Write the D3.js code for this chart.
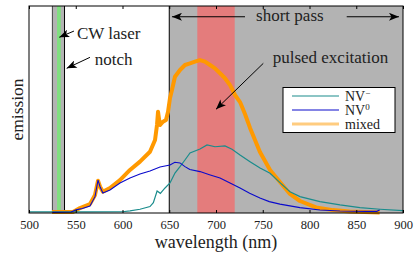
<!DOCTYPE html>
<html>
<head>
 <meta charset="UTF-8">
 <title>NV emission</title>
 <script src="https://d3js.org/d3.v7.min.js"></script>
 <style>
  body { margin: 0; background: #fff; }
  text { font-family: "Liberation Serif", "DejaVu Serif", serif; fill: #222; }
 </style>
</head>
<body>
<script type="text/javascript">
var width = 415, height = 258;
var plotLeft = 29, plotRight = 403, plotTop = 6, plotBottom = 213;

var tickNm = [500, 550, 600, 650, 700, 750, 800, 850, 900];

// filter bands (nm)
var notchBand = [525, 538];
var laserBand = [530, 534];
var shortPassEdge = 650;
var pulseBand = [680, 720];

// NV- spectrum
var nvMinusNm = [500, 560, 600, 608, 618.7, 629.4, 633, 637, 640.5, 645.5, 650.8, 656.1, 661.5, 666.8, 672.2, 682.9, 690.4, 698.9, 709.6, 717.1, 725.7, 736.4, 747.1, 757.8, 768.4, 779.1, 789.8, 811.2, 832.6, 854, 875.4, 900];
var nvMinusEm = [0.005, 0.005, 0.006, 0.01, 0.018, 0.031, 0.05, 0.106, 0.095, 0.121, 0.145, 0.193, 0.224, 0.256, 0.29, 0.309, 0.329, 0.32, 0.324, 0.308, 0.28, 0.248, 0.217, 0.192, 0.147, 0.103, 0.079, 0.055, 0.039, 0.026, 0.018, 0.011];

// NV0 spectrum
var nvZeroNm = [525, 545, 550.3, 557, 565.2, 570.6, 573.8, 576, 579, 586.6, 597.3, 608, 618.7, 629.4, 640.1, 650.8, 656, 661.5, 666.8, 672, 682.9, 693, 704.3, 715, 725.7, 736, 747, 757, 768.4, 789.8, 811.2, 832.6, 860, 872, 875];
var nvZeroEm = [0.003, 0.005, 0.015, 0.022, 0.034, 0.079, 0.159, 0.127, 0.097, 0.111, 0.145, 0.169, 0.188, 0.203, 0.222, 0.232, 0.245, 0.242, 0.224, 0.21, 0.2, 0.185, 0.169, 0.145, 0.121, 0.095, 0.072, 0.055, 0.043, 0.026, 0.0145, 0.01, 0.008, 0.008, 0.014];

// mixed spectrum
var mixedNm = [524.6, 547, 554.5, 565.2, 570.6, 573.8, 576, 579, 586.6, 597.3, 608, 618.7, 629.4, 634.8, 636.9, 638, 640, 643.3, 646.5, 648.7, 650.8, 652.9, 656.1, 661.5, 666.8, 672.2, 677.5, 682.9, 688.2, 693.6, 698.9, 704.3, 709.6, 715, 720.3, 725.7, 731, 736.4, 741.7, 747, 757.8, 768.4, 779.1, 789.8, 807, 825, 843, 875];
var mixedEm = [0.005, 0.005, 0.024, 0.043, 0.087, 0.156, 0.127, 0.103, 0.121, 0.159, 0.208, 0.248, 0.296, 0.353, 0.425, 0.489, 0.425, 0.441, 0.449, 0.489, 0.556, 0.594, 0.658, 0.691, 0.715, 0.723, 0.731, 0.739, 0.731, 0.715, 0.699, 0.675, 0.651, 0.618, 0.57, 0.536, 0.478, 0.411, 0.353, 0.295, 0.208, 0.15, 0.092, 0.058, 0.027, 0.014, 0.007, 0.002];

var seriesNames = ["NV", "NV", "mixed"];
var seriesSup = ["\u2212", "0", ""];
var seriesColors = ["#1a8c8c", "#0a0acc", "#ff9900"];

var svg = d3.select('body').append('svg')
    .attr('width', width)
    .attr('height', height);

var x = d3.scaleLinear().domain([500, 900]).range([plotLeft, plotRight]);
var y = d3.scaleLinear().domain([0, 1]).range([plotBottom, plotTop]);

// shaded bands
function band(a, b, color) {
    svg.append('rect')
        .attr('x', x(a)).attr('y', plotTop)
        .attr('width', x(b) - x(a)).attr('height', plotBottom - plotTop)
        .style('fill', color);
}
band(shortPassEdge, 900, '#b3b3b3');
band(notchBand[0], notchBand[1], '#b3b3b3');
band(laserBand[0], laserBand[1], '#80e080');
band(pulseBand[0], pulseBand[1], '#e47c7c');

[notchBand[0], notchBand[1], shortPassEdge].forEach(function (v, i) {
    svg.append('line')
        .attr('x1', x(v)).attr('x2', x(v))
        .attr('y1', plotTop).attr('y2', plotBottom)
        .style('stroke', i == 0 ? '#444' : '#000')
        .style('stroke-width', 1);
});

var line = d3.line()
    .x(function (d) { return x(d[0]); })
    .y(function (d) { return y(d[1]); });

svg.append('path')
    .datum(d3.zip(mixedNm, mixedEm))
    .attr('d', line)
    .style('fill', 'none')
    .style('stroke', seriesColors[2])
    .style('stroke-width', 4)
    .style('stroke-linejoin', 'round');
svg.append('path')
    .datum(d3.zip(nvMinusNm, nvMinusEm))
    .attr('d', line)
    .style('fill', 'none')
    .style('stroke', seriesColors[0])
    .style('stroke-width', 1.2);
svg.append('path')
    .datum(d3.zip(nvZeroNm, nvZeroEm))
    .attr('d', line)
    .style('fill', 'none')
    .style('stroke', seriesColors[1])
    .style('stroke-width', 1.1);

// axes
var xAxis = d3.axisBottom(x).tickValues(tickNm).tickSize(-3).tickPadding(7);
var gx = svg.append('g').attr('transform', 'translate(0,' + plotBottom + ')').call(xAxis);
gx.select('.domain').remove();
gx.selectAll('text').style('font-size', '12.5px').style('font-family', '"Liberation Serif", serif');
var gt = svg.append('g').attr('transform', 'translate(0,' + plotTop + ')')
    .call(d3.axisTop(x).tickValues(tickNm).tickSize(-3).tickFormat(''));
gt.select('.domain').remove();

svg.append('rect')
    .attr('x', plotLeft).attr('y', plotTop)
    .attr('width', plotRight - plotLeft).attr('height', plotBottom - plotTop)
    .style('fill', 'none').style('stroke', '#000').style('stroke-width', 1);

svg.append('text')
    .attr('x', 216).attr('y', 248)
    .attr('text-anchor', 'middle')
    .style('font-size', '18px')
    .text('wavelength (nm)');
svg.append('text')
    .attr('transform', 'translate(23,' + ((plotTop + plotBottom) / 2) + ') rotate(-90)')
    .attr('text-anchor', 'middle')
    .style('font-size', '17.5px')
    .text('emission');

// annotations
svg.append('defs').append('marker')
    .attr('id', 'head')
    .attr('viewBox', '0 0 10 8')
    .attr('refX', 10).attr('refY', 4)
    .attr('markerWidth', 11).attr('markerHeight', 8)
    .attr('markerUnits', 'userSpaceOnUse')
    .attr('orient', 'auto')
    .append('path')
    .attr('d', 'M0,0 L10,4 L0,8 L2.5,4 Z')
    .style('fill', '#000');

function arrow(x1, y1, x2, y2) {
    svg.append('line')
        .attr('x1', x(x1)).attr('y1', y(y1))
        .attr('x2', x(x2)).attr('y2', y(y2))
        .style('stroke', '#000').style('stroke-width', 1)
        .attr('marker-end', 'url(#head)');
}
function label(nm, em, txt, size, anchor) {
    svg.append('text')
        .attr('x', x(nm)).attr('y', y(em))
        .attr('text-anchor', anchor || 'start')
        .style('font-size', size + 'px')
        .text(txt);
}

arrow(731, 0.948, 652.9, 0.948);
arrow(839.8, 0.948, 895.7, 0.948);
label(779, 0.926, 'short pass', 17, 'middle');
arrow(548.1, 0.879, 532.4, 0.849);
label(551.3, 0.841, 'CW laser', 17);
arrow(565.2, 0.752, 540.3, 0.699);
label(570.3, 0.715, 'notch', 17);
arrow(750.6, 0.723, 700, 0.501);
label(760.6, 0.723, 'pulsed excitation', 17);

// legend
var lg = svg.append('g');
lg.append('rect')
    .attr('x', 283).attr('y', 87.5).attr('width', 112).attr('height', 45)
    .style('fill', '#fff').style('stroke', '#000').style('stroke-width', 1);
seriesNames.forEach(function (name, i) {
    var ly = 96 + i * 14;
    lg.append('line')
        .attr('x1', 292).attr('x2', 339)
        .attr('y1', ly).attr('y2', ly)
        .style('stroke', seriesColors[i])
        .style('stroke-opacity', 0.5)
        .style('stroke-width', i == 2 ? 3 : 2);
    var t = lg.append('text')
        .attr('x', 345).attr('y', ly + 5)
        .style('font-size', '14px')
        .text(name);
    if (seriesSup[i]) {
        t.append('tspan')
            .attr('dy', -5)
            .style('font-size', '9px')
            .text(seriesSup[i]);
    }
});
</script>
</body>
</html>
